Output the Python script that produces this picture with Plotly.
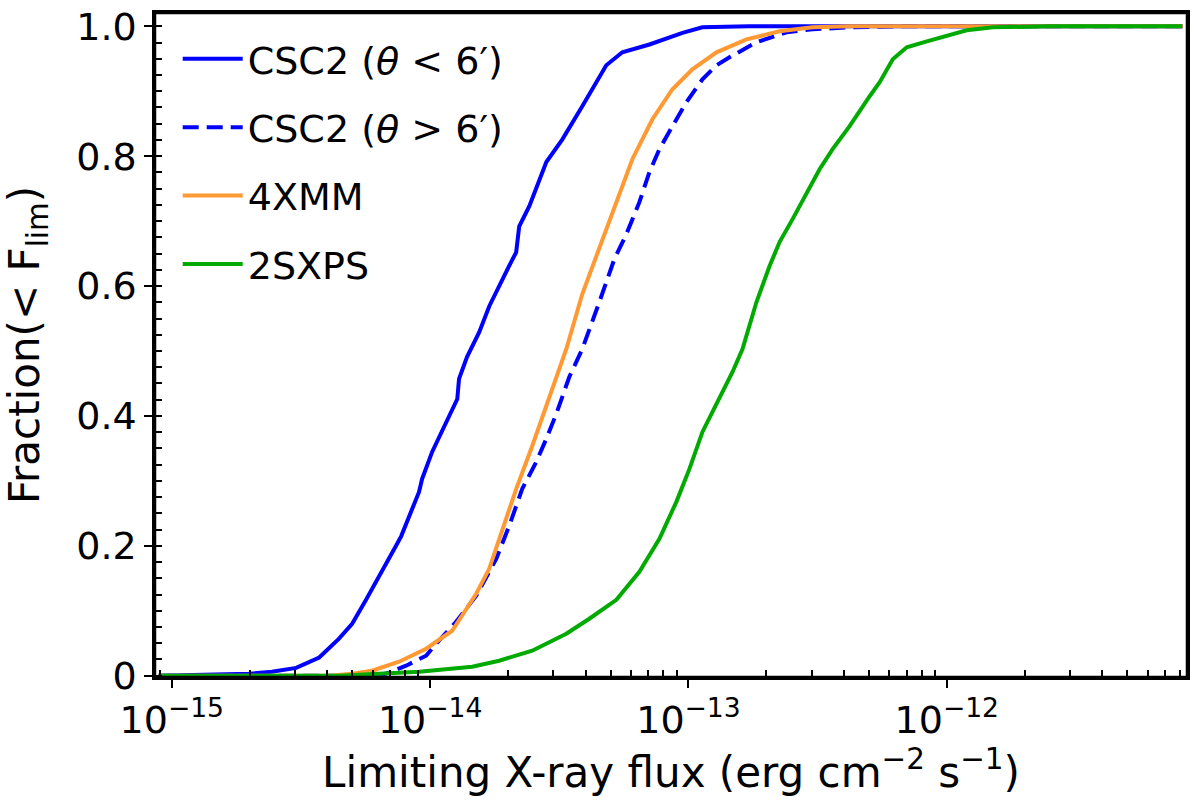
import plotly.graph_objects as go

# CSC2, inner part of the field (theta < 6')
csc2_in_flux = [8.9e-16, 1.66e-15, 1.99e-15, 2.44e-15, 3.03e-15, 3.72e-15, 4.44e-15,
                4.99e-15, 5.65e-15, 7.38e-15, 7.73e-15, 9.06e-15, 9.31e-15, 1.019e-14,
                1.216e-14, 1.274e-14, 1.294e-14, 1.390e-14, 1.549e-14, 1.694e-14,
                2.023e-14, 2.153e-14, 2.213e-14, 2.421e-14, 2.818e-14, 3.251e-14,
                3.882e-14, 4.246e-14, 4.808e-14, 5.546e-14, 7.063e-14, 9.484e-14,
                1.132e-13, 1.722e-13, 8.2e-12]
csc2_in_frac = [0.0, 0.0015, 0.003, 0.006, 0.012, 0.028, 0.057,
                0.080, 0.117, 0.200, 0.215, 0.283, 0.303, 0.345,
                0.411, 0.426, 0.457, 0.491, 0.529, 0.569,
                0.631, 0.652, 0.692, 0.723, 0.791, 0.826,
                0.877, 0.903, 0.940, 0.960, 0.972, 0.990,
                0.9985, 1.0, 1.0]

# CSC2, outer part of the field (theta > 6')
csc2_out_flux = [8.9e-16, 6.34e-15, 6.94e-15, 8.07e-15, 9.65e-15, 1.055e-14, 1.261e-14,
                 1.508e-14, 1.803e-14, 2.024e-14, 2.273e-14, 2.576e-14, 2.816e-14,
                 3.079e-14, 3.457e-14, 3.882e-14, 4.519e-14, 5.167e-14, 5.751e-14,
                 6.458e-14, 7.06e-14, 7.72e-14, 8.67e-14, 9.82e-14, 1.133e-13,
                 1.284e-13, 1.442e-13, 1.834e-13, 2.398e-13, 3.025e-13, 4.21e-13,
                 6.57e-13, 8.2e-12]
csc2_out_frac = [0.0, 0.0, 0.0046, 0.0154, 0.0308, 0.0492, 0.0831,
                 0.1231, 0.180, 0.2308, 0.2877, 0.3292, 0.3646,
                 0.4031, 0.460, 0.5031, 0.5754, 0.6415, 0.680,
                 0.7292, 0.7754, 0.8108, 0.8462, 0.8831, 0.9185,
                 0.940, 0.9523, 0.9754, 0.9908, 0.9954, 0.9985,
                 1.0, 1.0]

# 4XMM
xmm_flux = [8.9e-16, 4.06e-15, 4.99e-15, 5.96e-15, 7.58e-15, 9.65e-15, 1.217e-14,
            1.508e-14, 1.693e-14, 1.851e-14, 2.154e-14, 2.485e-14, 2.892e-14,
            3.367e-14, 3.882e-14, 4.642e-14, 5.403e-14, 6.067e-14, 7.253e-14,
            8.67e-14, 1.036e-13, 1.284e-13, 1.678e-13, 2.253e-13, 3.025e-13,
            4.21e-13, 8.2e-12]
xmm_frac = [0.0, 0.0, 0.003, 0.0077, 0.0215, 0.0415, 0.0692,
            0.1262, 0.1646, 0.2108, 0.2877, 0.3538, 0.4262,
            0.5031, 0.5877, 0.6723, 0.7446, 0.7954, 0.8569,
            0.9031, 0.9338, 0.960, 0.980, 0.9923, 0.9985,
            1.0, 1.0]

# 2SXPS
sxps_flux = [8.9e-16, 4.44e-15, 9.07e-15, 1.455e-14, 1.851e-14, 2.485e-14, 3.367e-14,
             4.133e-14, 5.26e-14, 6.458e-14, 7.72e-14, 8.98e-14, 1.009e-13,
             1.133e-13, 1.239e-13, 1.481e-13, 1.619e-13, 1.834e-13, 2.061e-13,
             2.253e-13, 2.530e-13, 2.867e-13, 3.219e-13, 3.615e-13, 4.207e-13,
             5.03e-13, 5.50e-13, 6.18e-13, 7.00e-13, 8.37e-13, 1.0e-12,
             1.195e-12, 1.508e-12, 2.507e-12, 8.15e-12]
sxps_frac = [0.0, 0.0, 0.0062, 0.0138, 0.0231, 0.0385, 0.0646,
             0.0877, 0.1169, 0.160, 0.2108, 0.2677, 0.3185,
             0.3754, 0.4062, 0.4677, 0.5031, 0.5754, 0.6308,
             0.6677, 0.7031, 0.7446, 0.780, 0.8108, 0.8462,
             0.8923, 0.9138, 0.9492, 0.9677, 0.9769, 0.9846,
             0.9938, 0.9985, 1.0, 1.0]

x_tickvals = [1e-15, 1e-14, 1e-13, 1e-12]
x_ticktext = ["10<sup>\u221215</sup>", "10<sup>\u221214</sup>",
              "10<sup>\u221213</sup>", "10<sup>\u221212</sup>"]
y_tickvals = [0, 0.2, 0.4, 0.6, 0.8, 1.0]
y_ticktext = ["0", "0.2", "0.4", "0.6", "0.8", "1.0"]

FONT = "DejaVu Sans"
# minor tick positions on the log axis (2..9 in every decade)
minor_x = [m * 10.0 ** e for e in range(-16, -11) for m in range(2, 10)]

fig = go.Figure()

# invisible copy on an overlaid y axis, only there to carry the inward minor ticks
fig.add_trace(go.Scatter(x=sxps_flux, y=sxps_frac, yaxis="y2", mode="lines",
                         line=dict(width=0), opacity=0, showlegend=False,
                         hoverinfo="skip"))

series = [
    (csc2_in_flux, csc2_in_frac, "CSC2 (<i>\u03b8</i> &lt; 6\u2032)", "#0000ff", "solid"),
    (csc2_out_flux, csc2_out_frac, "CSC2 (<i>\u03b8</i> &gt; 6\u2032)", "#0000ff", "16px,8px"),
    (xmm_flux, xmm_frac, "4XMM", "#ff9933", "solid"),
    (sxps_flux, sxps_frac, "2SXPS", "#00aa00", "solid"),
]
for i, (fx, fr, name, col, dash) in enumerate(series):
    fig.add_trace(go.Scatter(
        x=fx, y=fr, mode="lines", name=name, legendgroup=str(i),
        line=dict(color=col, width=4, dash=dash),
    ))

fig.update_layout(
    width=1200, height=808,
    margin=dict(l=155, r=13, t=13, b=131),
    paper_bgcolor="white", plot_bgcolor="white",
    font=dict(family=FONT, size=38, color="black"),
    showlegend=True,
    legend=dict(x=0.022, y=0.978, xanchor="left", yanchor="top",
                bgcolor="rgba(0,0,0,0)", tracegroupgap=16, itemwidth=60,
                font=dict(size=38)),
    xaxis=dict(
        type="log", range=[-15.065, -11.07], automargin=False,
        tickmode="array", tickvals=x_tickvals, ticktext=x_ticktext,
        ticks="outside", ticklen=8, tickwidth=2, tickcolor="black",
        minor=dict(tickmode="array", tickvals=minor_x, ticks="inside",
                   ticklen=7, tickwidth=2, tickcolor="black"),
        showline=True, linewidth=2.5, linecolor="black", mirror=True,
        showgrid=False, zeroline=False,
        title=dict(text="Limiting X-ray flux (erg cm<sup>\u22122</sup> s<sup>\u22121</sup>)",
                   font=dict(size=42), standoff=12),
    ),
    yaxis=dict(
        range=[-0.002, 1.0205], automargin=False,
        tickmode="array", tickvals=y_tickvals, ticktext=y_ticktext,
        ticks="outside", ticklen=8, tickwidth=2, tickcolor="black",
        showline=True, linewidth=2.5, linecolor="black", mirror=True,
        showgrid=False, zeroline=False,
        title=dict(text="Fraction(&lt; F<sub>lim</sub>)", font=dict(size=42), standoff=26),
    ),
    yaxis2=dict(overlaying="y", matches="y", anchor="x", side="left",
                automargin=False,
                showticklabels=False, showline=False, showgrid=False, zeroline=False,
                tickmode="linear", tick0=0, dtick=0.025,
                ticks="inside", ticklen=7, tickwidth=2, tickcolor="black"),
    shapes=[dict(type="rect", xref="paper", yref="paper", x0=0, x1=1, y0=0, y1=1,
                 line=dict(color="black", width=2.5), fillcolor="rgba(0,0,0,0)",
                 layer="above")],
)

# drop the browser's default 8px page margin so the figure fills the window
fig.write_html("out.html", config={"displayModeBar": False},
               post_script="document.body.style.margin='0';"
                           "document.body.style.overflow='hidden';")
